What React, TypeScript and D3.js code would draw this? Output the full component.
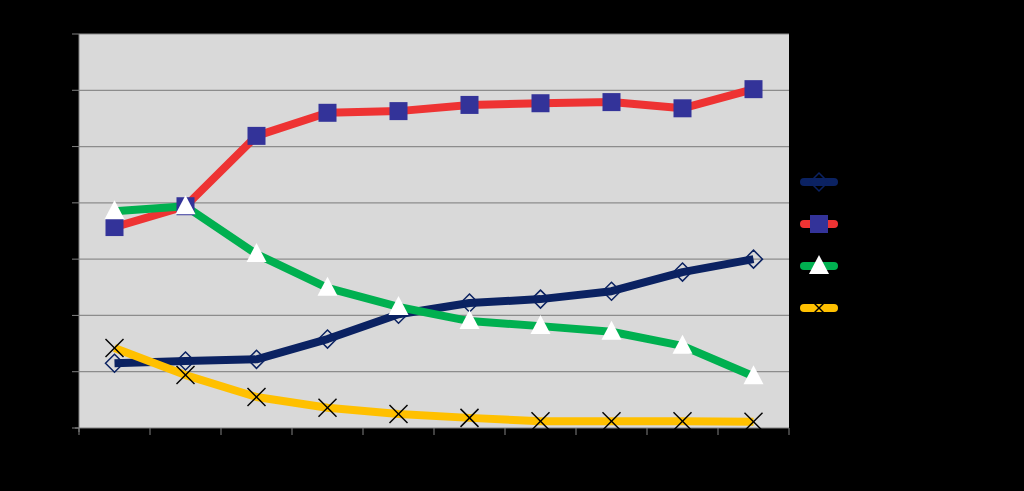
import React from "react";
import * as d3 from "d3";

const categories = ["1", "2", "3", "4", "5", "6", "7", "8", "9", "10"];
const seriesNames = ["Series 1", "Series 2", "Series 3", "Series 4"];
const navyValues = [11.5, 11.9, 12.2, 15.8, 20.2, 22.2, 22.9, 24.3, 27.7, 30.0];
const redValues = [35.7, 39.4, 51.9, 56.0, 56.3, 57.4, 57.7, 57.9, 56.8, 60.2];
const greenValues = [38.5, 39.4, 30.9, 24.9, 21.5, 19.0, 18.1, 17.1, 14.6, 9.2];
const yellowValues = [14.2, 9.4, 5.5, 3.6, 2.5, 1.8, 1.2, 1.2, 1.2, 1.1];
const yTicks = [0, 10, 20, 30, 40, 50, 60, 70];

const W = 1024, H = 491;
const plot = { left: 79, right: 789, top: 34, bottom: 428 };

type Marker = "diamond" | "square" | "triangle" | "x";
const series: { name: string; values: number[]; color: string; marker: Marker }[] = [
  { name: seriesNames[0], values: navyValues, color: "#0B2262", marker: "diamond" },
  { name: seriesNames[1], values: redValues, color: "#EE3333", marker: "square" },
  { name: seriesNames[2], values: greenValues, color: "#00B050", marker: "triangle" },
  { name: seriesNames[3], values: yellowValues, color: "#FFC000", marker: "x" },
];

function MarkerShape({ type, x, y }: { type: Marker; x: number; y: number }) {
  if (type === "square") return <rect x={x - 9} y={y - 9} width={18} height={18} fill="#333399" />;
  if (type === "triangle")
    return <path d={`M${x},${y - 11}L${x + 10},${y + 8}L${x - 10},${y + 8}Z`} fill="#FFFFFF" />;
  if (type === "diamond")
    return <path d={`M${x},${y - 9}L${x + 9},${y}L${x},${y + 9}L${x - 9},${y}Z`} fill="none" stroke="#0B2262" strokeWidth={1.5} />;
  return (
    <g stroke="#000" strokeWidth={1.5}>
      <line x1={x - 9} y1={y - 9} x2={x + 9} y2={y + 9} />
      <line x1={x - 9} y1={y + 9} x2={x + 9} y2={y - 9} />
    </g>
  );
}

export default function App() {
  const x = d3.scaleBand().domain(categories).range([plot.left, plot.right]);
  const y = d3.scaleLinear().domain([0, 70]).range([plot.bottom, plot.top]);
  const cx = (c: string) => (x(c) as number) + x.bandwidth() / 2;
  const line = d3
    .line<number>()
    .x((_, i) => cx(categories[i]))
    .y((d) => y(d));
  const xTickPos = categories.map((c) => x(c) as number).concat([plot.right]);

  return (
    <svg width={W} height={H} style={{ position: "absolute", left: 0, top: 0, background: "#000" }}>
      <rect x={0} y={0} width={W} height={H} fill="#000" />
      <rect x={plot.left} y={plot.top} width={plot.right - plot.left} height={plot.bottom - plot.top} fill="#D9D9D9" />
      {yTicks.slice(1).map((t) => (
        <line key={t} x1={plot.left} x2={plot.right} y1={y(t)} y2={y(t)} stroke="#8C8C8C" strokeWidth={1.2} />
      ))}
      <line x1={plot.left} x2={plot.left} y1={plot.top} y2={plot.bottom + 4} stroke="#808080" strokeWidth={1} />
      <line x1={plot.left - 4} x2={plot.right} y1={plot.bottom} y2={plot.bottom} stroke="#808080" strokeWidth={1} />
      {yTicks.map((t) => (
        <line key={"yt" + t} x1={plot.left - 7} x2={plot.left} y1={y(t)} y2={y(t)} stroke="#808080" />
      ))}
      {xTickPos.map((p, i) => (
        <line key={"xt" + i} x1={p} x2={p} y1={plot.bottom} y2={plot.bottom + 7} stroke="#808080" />
      ))}
      {series.map((s) => (
        <path key={s.name} d={line(s.values) || ""} fill="none" stroke={s.color} strokeWidth={8} strokeLinejoin="round" />
      ))}
      {series.map((s) =>
        s.values.map((v, i) => <MarkerShape key={s.name + i} type={s.marker} x={cx(categories[i])} y={y(v)} />)
      )}
      {series.map((s, i) => {
        const ly = 182 + i * 42;
        return (
          <g key={"lg" + i}>
            <line x1={804} x2={834} y1={ly} y2={ly} stroke={s.color} strokeWidth={8} strokeLinecap="round" />
            <MarkerShape type={s.marker} x={819} y={ly} />
            <text x={850} y={ly + 5} fill="#000" fontFamily="Arial, Liberation Sans" fontSize={14}>{s.name}</text>
          </g>
        );
      })}
    </svg>
  );
}
